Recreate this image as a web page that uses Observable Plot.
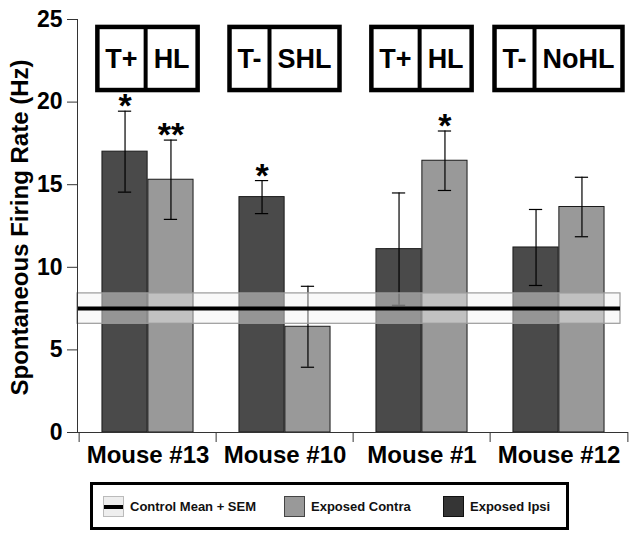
<!DOCTYPE html>
<html>
<head>
<meta charset="utf-8">
<script src="https://cdn.jsdelivr.net/npm/d3@7"></script>
<script src="https://cdn.jsdelivr.net/npm/@observablehq/plot@0.6"></script>
<style>
  html, body { margin: 0; padding: 0; background: #fff; }
  body { width: 638px; font-family: "Liberation Sans", Arial, sans-serif; }
  #legend { position: relative; margin-left: 90px; margin-top: 8px; width: 479px; height: 48px; box-sizing: border-box; border: 3px solid #000; font-weight: bold; font-size: 13px; color: #111; }
  #legend .sw { position: absolute; top: 11px; width: 21px; height: 21px; box-sizing: border-box; }
  #legend .lb { position: absolute; top: 14px; white-space: nowrap; }
</style>
</head>
<body>
<div id="chart"></div>
<div id="legend"></div>
<script>
const FONT = '"Liberation Sans", Arial, sans-serif';
// ---- data ----
const mice = ["Mouse #13", "Mouse #10", "Mouse #1", "Mouse #12"];
const ipsiMean = [17.0, 14.25, 11.1, 11.2];
const ipsiSem = [2.45, 1.0, 3.4, 2.3];
const contraMean = [15.3, 6.4, 16.45, 13.65];
const contraSem = [2.4, 2.45, 1.8, 1.8];
const ipsiStars = ["*", "*", "", ""];
const contraStars = ["**", "", "*", ""];
const tinnitus = ["T+", "T-", "T+", "T-"];
const hearing = ["HL", "SHL", "HL", "NoHL"];
const controlMean = 7.5;
const controlSem = 0.92;
const yTicks = [0, 5, 10, 15, 20, 25];
const yTitle = "Spontaneous Firing Rate (Hz)";
const seriesNames = ["Control Mean + SEM", "Exposed Contra", "Exposed Ipsi"];

const rows = mice.map((m, i) => ({
  mouse: m,
  ipsi: ipsiMean[i], ipsiLo: ipsiMean[i] - ipsiSem[i], ipsiHi: ipsiMean[i] + ipsiSem[i], ipsiStar: ipsiStars[i],
  contra: contraMean[i], contraLo: contraMean[i] - contraSem[i], contraHi: contraMean[i] + contraSem[i], contraStar: contraStars[i]
}));

const W = 638, ML = 77, MR = 10, MT = 19, MB = 42, H = 474;
const bw = (W - ML - MR) / mice.length;
const barW = bw / 3;
const off = barW / 2;            // bar center offset from band center
const capInset = (bw - 14) / 2;  // error-bar cap width 14px
const IPSI = "#4a4a4a", CONTRA = "#999999";

const plot = Plot.plot({
  width: W,
  height: H,
  marginTop: MT,
  marginLeft: ML,
  marginRight: MR,
  marginBottom: MB,
  style: { fontFamily: FONT, color: "#000", background: "#fff" },
  x: { domain: mice, padding: 0 },
  y: { domain: [0, 25] },
  marks: [
    Plot.barY(rows, { x: "mouse", y: "ipsi", fill: IPSI, stroke: "#1a1a1a", strokeWidth: 1, insetLeft: bw / 2 - barW, insetRight: bw / 2 }),
    Plot.barY(rows, { x: "mouse", y: "contra", fill: CONTRA, stroke: "#1a1a1a", strokeWidth: 1, insetLeft: bw / 2, insetRight: bw / 2 - barW }),
    // error bars
    Plot.ruleX(rows, { x: "mouse", y1: "ipsiLo", y2: "ipsiHi", dx: -off, stroke: "#000", strokeWidth: 1.2 }),
    Plot.tickY(rows, { x: "mouse", y: "ipsiHi", dx: -off, insetLeft: capInset, insetRight: capInset, stroke: "#000", strokeWidth: 1.2 }),
    Plot.tickY(rows, { x: "mouse", y: "ipsiLo", dx: -off, insetLeft: capInset, insetRight: capInset, stroke: "#000", strokeWidth: 1.2 }),
    Plot.ruleX(rows, { x: "mouse", y1: "contraLo", y2: "contraHi", dx: off, stroke: "#000", strokeWidth: 1.2 }),
    Plot.tickY(rows, { x: "mouse", y: "contraHi", dx: off, insetLeft: capInset, insetRight: capInset, stroke: "#000", strokeWidth: 1.2 }),
    Plot.tickY(rows, { x: "mouse", y: "contraLo", dx: off, insetLeft: capInset, insetRight: capInset, stroke: "#000", strokeWidth: 1.2 }),
    // significance stars
    Plot.text(rows, { x: "mouse", y: "ipsiHi", text: "ipsiStar", dx: -off, dy: 6, lineAnchor: "bottom", fontSize: 34, fontWeight: "bold" }),
    Plot.text(rows, { x: "mouse", y: "contraHi", text: "contraStar", dx: off, dy: 6, lineAnchor: "bottom", fontSize: 34, fontWeight: "bold" }),
    // control band + mean
    Plot.rect([{ lo: controlMean - controlSem, hi: controlMean + controlSem }], { y1: "lo", y2: "hi", fill: "#f2f2f2", fillOpacity: 0.45, stroke: "#9a9a9a", strokeWidth: 1.2, insetRight: 8 }),
    Plot.ruleY([controlMean], { stroke: "#000", strokeWidth: 4, insetRight: 8 }),
    // axes
    Plot.frame({ anchor: "left", stroke: "#333" }),
    Plot.ruleY([0], { stroke: "#333" }),
    Plot.axisY({ ticks: yTicks, tickSize: 10, tickPadding: 5, fontSize: 23, fontWeight: "bold", stroke: "#333", label: null }),
    Plot.axisX({ tickSize: 10, tickFormat: () => "", dx: -bw / 2, label: null, stroke: "#333" }),
    Plot.axisX({ ticks: [mice[mice.length - 1]], tickSize: 10, tickFormat: () => "", dx: bw / 2, label: null, stroke: "#333" }),
    Plot.axisX({ tickSize: 0, tickPadding: 13, fontSize: 24, fontWeight: "bold", label: null })
  ]
});
document.getElementById("chart").appendChild(plot);

const svg = d3.select(plot);
// ---- y-axis title ----
svg.append("text")
  .attr("transform", `translate(28,${(MT + H - MB) / 2 + 2}) rotate(-90)`)
  .attr("text-anchor", "middle")
  .attr("font-family", FONT).attr("font-weight", "bold").attr("font-size", 24)
  .attr("fill", "#000")
  .text(yTitle);

// ---- group label boxes (positioned with the plot's scales) ----
const xs = plot.scale("x"), ys = plot.scale("y");
const boxTopV = 24.52, boxBotV = 20.7, pad = 8;
const gb = svg.append("g").attr("font-family", FONT).attr("font-weight", "bold").attr("font-size", 27).attr("fill", "#000");
mice.forEach((m, i) => {
  const cx = xs.apply(m) + xs.bandwidth / 2;
  const yT = ys.apply(boxTopV), yB = ys.apply(boxBotV);
  const g = gb.append("g");
  const t1 = g.append("text").text(tinnitus[i]).attr("text-anchor", "middle");
  const t2 = g.append("text").text(hearing[i]).attr("text-anchor", "middle");
  const w1 = t1.node().getComputedTextLength() + 2 * pad;
  const w2 = t2.node().getComputedTextLength() + 2 * pad;
  const x0 = cx - (w1 + w2) / 2;
  const base = (yT + yB) / 2 + 10;
  t1.attr("x", x0 + w1 / 2).attr("y", base);
  t2.attr("x", x0 + w1 + w2 / 2).attr("y", base);
  g.append("rect").attr("x", x0).attr("y", yT).attr("width", w1 + w2).attr("height", yB - yT)
    .attr("fill", "none").attr("stroke", "#000").attr("stroke-width", 4.5);
  g.append("line").attr("x1", x0 + w1).attr("x2", x0 + w1).attr("y1", yT).attr("y2", yB)
    .attr("stroke", "#000").attr("stroke-width", 4);
});

// ---- legend ----
const legend = d3.select("#legend");
const swLeft = [10, 191, 350], lbLeft = [37, 218, 377];
const sw0 = legend.append("div").attr("class", "sw").style("left", swLeft[0] + "px")
  .style("background", "#eeeeee").style("border", "1px solid #bbb");
sw0.append("div").style("position", "absolute").style("left", "0").style("right", "0").style("top", "8px").style("height", "4px").style("background", "#000");
legend.append("div").attr("class", "sw").style("left", swLeft[1] + "px").style("background", CONTRA).style("border", "1.5px solid #444");
legend.append("div").attr("class", "sw").style("left", swLeft[2] + "px").style("background", "#353535").style("border", "1.5px solid #111");
seriesNames.forEach((s, i) => legend.append("div").attr("class", "lb").style("left", lbLeft[i] + "px").text(s));
</script>
</body>
</html>
